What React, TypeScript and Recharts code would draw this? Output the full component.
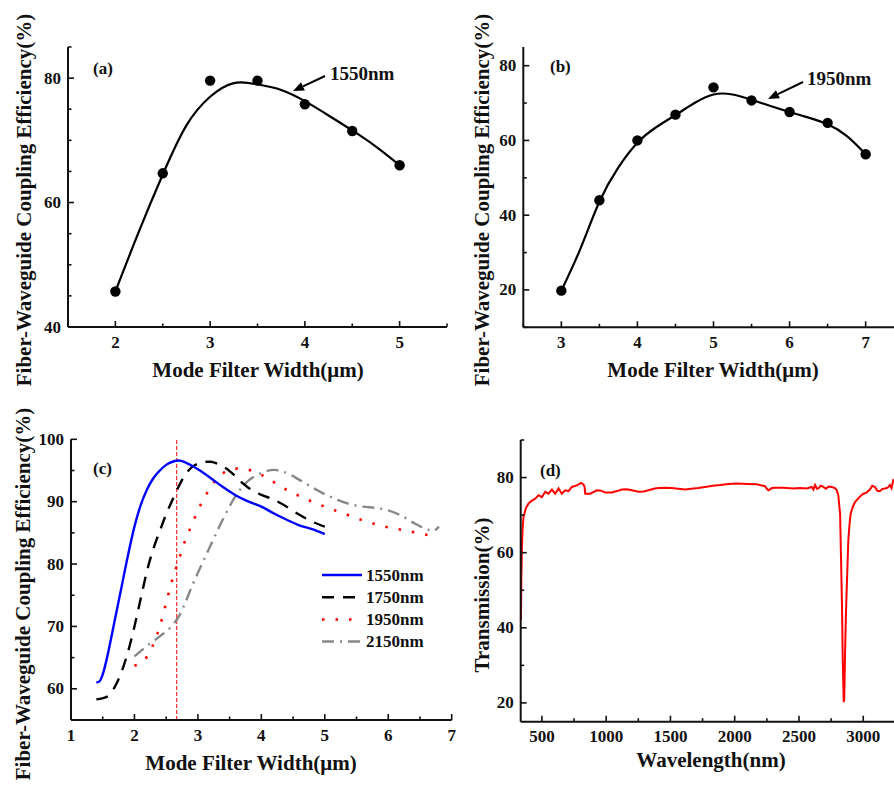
import React from 'react';
import { ComposedChart, LineChart, Line, Scatter, XAxis, YAxis, ReferenceLine } from 'recharts';

const FONT = '"Liberation Serif", "Times New Roman", Times, "DejaVu Serif", serif';

// ---- (a) 1550nm : measured points + fitted curve
const widthA = [2, 2.5, 3, 3.5, 4, 4.5, 5];
const effA = [45.7, 64.7, 79.6, 79.6, 75.8, 71.5, 66.0];
const fitXA = [2, 2.25, 2.5, 2.75, 3, 3.25, 3.5, 3.75, 4, 4.25, 4.5, 4.75, 5];
const fitYA = [45.7, 55.4, 64.5, 72.4, 77.0, 79.2, 79.0, 78.1, 76.3, 74.0, 71.6, 69.0, 66.0];
const ticksXA = [1.5, 2, 2.5, 3, 3.5, 4, 4.5, 5, 5.5];
const labelsXA = [2, 3, 4, 5];
const ticksYA = [40, 45, 50, 55, 60, 65, 70, 75, 80, 85];
const labelsYA = [40, 60, 80];

// ---- (b) 1950nm
const widthB = [3, 3.5, 4, 4.5, 5, 5.5, 6, 6.5, 7];
const effB = [19.8, 44.0, 60.0, 66.9, 74.2, 70.7, 67.6, 64.7, 56.3];
const fitXB = [3, 3.25, 3.5, 3.75, 4, 4.25, 4.5, 4.75, 5, 5.25, 5.5, 5.75, 6, 6.25, 6.5, 6.75, 7];
const fitYB = [19.8, 31.0, 43.6, 52.8, 59.4, 63.6, 66.8, 70.0, 72.3, 72.3, 70.9, 69.2, 67.6, 66.1, 64.3, 61.2, 56.3];
const ticksXB = [2.5, 3, 3.5, 4, 4.5, 5, 5.5, 6, 6.5, 7, 7.5];
const labelsXB = [3, 4, 5, 6, 7];
const ticksYB = [10, 20, 30, 40, 50, 60, 70, 80];
const labelsYB = [20, 40, 60, 80];

// ---- (c) simulated coupling efficiency per wavelength
const c1550 = [
  [1.4, 61.0], [1.45, 61.2], [1.5, 62.3], [1.55, 64.2], [1.6, 66.5], [1.7, 71.5], [1.8, 76.5], [1.9, 81.5],
  [2.0, 86.0], [2.1, 89.5], [2.2, 92.0], [2.3, 93.8], [2.4, 95.0], [2.5, 95.9], [2.6, 96.4],
  [2.7, 96.6], [2.8, 96.3], [2.9, 95.8], [3.0, 95.2], [3.2, 93.8], [3.4, 92.3], [3.6, 91.0], [3.8, 90.0],
  [4.0, 89.2], [4.2, 88.1], [4.4, 87.1], [4.6, 86.2], [4.8, 85.6], [5.0, 84.8],
];
const c1750 = [
  [1.4, 58.3], [1.5, 58.5], [1.6, 59.0], [1.7, 60.5], [1.8, 62.8], [1.9, 66.0], [2.0, 70.0], [2.1, 74.5],
  [2.2, 79.0], [2.3, 82.5], [2.4, 85.3], [2.5, 88.0], [2.6, 90.3], [2.7, 92.5], [2.8, 94.3], [2.9, 95.5],
  [3.0, 96.1], [3.1, 96.4], [3.2, 96.4], [3.3, 96.1], [3.4, 95.6], [3.5, 94.9], [3.6, 94.0], [3.7, 93.0],
  [3.8, 92.2], [3.9, 91.6], [4.0, 91.1], [4.2, 90.3], [4.4, 89.2], [4.6, 87.9], [4.8, 86.8], [5.0, 86.0],
];
const c1950 = [
  [2.0, 63.7], [2.2, 65.2], [2.3, 67.2], [2.4, 70.0], [2.5, 73.8], [2.6, 77.6], [2.7, 80.7], [2.8, 83.8],
  [2.9, 86.2], [3.0, 88.6], [3.1, 90.6], [3.2, 92.3], [3.3, 93.7], [3.4, 94.6], [3.5, 95.1], [3.6, 95.3],
  [3.8, 95.1], [4.0, 94.3], [4.2, 93.1], [4.4, 91.9], [4.6, 90.9], [4.8, 90.0], [5.0, 89.2], [5.3, 88.1],
  [5.6, 87.0], [5.9, 86.1], [6.2, 85.5], [6.5, 84.9], [6.7, 84.5],
];
const c2150 = [
  [2.0, 65.2], [2.2, 66.9], [2.4, 68.4], [2.6, 70.2], [2.7, 71.6], [2.8, 73.8], [2.9, 76.3], [3.0, 78.6],
  [3.2, 83.0], [3.4, 87.3], [3.6, 91.0], [3.8, 93.4], [4.0, 94.6], [4.2, 95.1], [4.4, 94.6], [4.6, 93.5],
  [4.8, 92.3], [5.0, 91.2], [5.2, 90.3], [5.4, 89.6], [5.6, 89.2], [5.8, 89.0], [6.0, 88.6], [6.2, 87.8],
  [6.4, 86.6], [6.6, 85.6], [6.7, 85.3], [6.8, 86.0],
];
const optimumWidth = 2.666;
const ticksXC = [1, 1.5, 2, 2.5, 3, 3.5, 4, 4.5, 5, 5.5, 6, 6.5, 7];
const labelsXC = [1, 2, 3, 4, 5, 6, 7];
const ticksYC = [55, 60, 65, 70, 75, 80, 85, 90, 95, 100];
const labelsYC = [60, 70, 80, 90, 100];

// ---- (d) transmission spectrum
const spectrum = [
  [337, 42], [340, 53], [345, 62], [350, 66.5], [357, 69.5], [375, 71.8], [396, 73.1], [420, 73.8],
  [448, 74.4], [474, 75.3], [500, 74.8], [526, 76.2], [551, 75.7], [578, 76.8], [603, 75.7], [629, 77.1],
  [655, 75.7], [681, 76.6], [707, 76.4], [733, 77.5], [772, 77.9], [806, 78.6], [823, 78.2], [832, 77.5],
  [837, 75.7], [876, 75.7], [928, 76.6], [960, 76.5], [992, 76.0], [1044, 76.0], [1085, 76.4], [1122, 76.8],
  [1160, 76.9], [1200, 76.6], [1251, 76.2], [1290, 76.3], [1329, 76.6], [1370, 77.0], [1406, 77.2],
  [1460, 77.3], [1510, 77.2], [1560, 77.0], [1614, 76.8], [1660, 77.0], [1717, 77.2], [1769, 77.5],
  [1830, 77.8], [1887, 78.0], [1950, 78.3], [2016, 78.4], [2100, 78.3], [2171, 78.2], [2236, 77.7],
  [2250, 77.0], [2262, 76.6], [2290, 77.2], [2314, 77.3], [2380, 77.3], [2456, 77.1], [2510, 77.2],
  [2560, 77.1], [2599, 77.5], [2612, 76.8], [2625, 78.0], [2640, 77.0], [2651, 77.1], [2670, 77.8],
  [2690, 77.5], [2710, 77.0], [2730, 77.6], [2755, 77.5], [2780, 77.2], [2794, 76.6], [2806, 75.3],
  [2815, 72.0], [2820, 70.4], [2827, 58.8], [2835, 45.5], [2840, 32.2], [2848, 20.2], [2852, 21.0],
  [2858, 32.2], [2864, 42.0], [2871, 49.9], [2884, 63.3], [2893, 67.5], [2902, 70.4], [2920, 72.3],
  [2936, 73.5], [2970, 74.8], [3000, 75.7], [3025, 76.0], [3052, 76.8], [3070, 77.8], [3091, 77.5],
  [3110, 76.5], [3130, 76.4], [3150, 77.0], [3169, 77.1], [3190, 77.3], [3208, 78.0], [3220, 77.2],
  [3234, 79.3], [3250, 78.8], [3270, 79.5],
];
const ticksXD = [500, 750, 1000, 1250, 1500, 1750, 2000, 2250, 2500, 2750, 3000, 3250];
const labelsXD = [500, 1000, 1500, 2000, 2500, 3000];
const ticksYD = [20, 30, 40, 50, 60, 70, 80, 90];
const labelsYD = [20, 40, 60, 80];

const toPts = (xs: number[], ys: number[]) => xs.map((x, i) => ({ x, y: ys[i] }));
const fromPairs = (arr: number[][]) => arr.map(([x, y]) => ({ x, y }));

const tickFont = { fontFamily: FONT, fontWeight: 700, fontSize: 17, fill: '#111' };
const lineSt = { stroke: '#111', strokeWidth: 1.6 };

// inward ticks (major long, minor short), labels only on bottom/left
const makeTick = (side: string, labels: number[]) => (p: any) => {
  const { x, y, payload } = p;
  const v = payload.value;
  const major = labels.some((l) => Math.abs(l - v) < 1e-6);
  const len = major ? 6 : 3.5;
  if (side === 'bottom') {
    const ay = y - 15;
    return (
      <g>
        <line x1={x} x2={x} y1={ay} y2={ay - len} {...lineSt} />
        {major && <text x={x} y={y} textAnchor="middle" dominantBaseline="central" style={tickFont}>{v}</text>}
      </g>
    );
  }
  if (side === 'left') {
    const ax = x + 7;
    return (
      <g>
        <line x1={ax} x2={ax + len} y1={y} y2={y} {...lineSt} />
        {major && <text x={x} y={y} textAnchor="end" dominantBaseline="central" style={tickFont}>{v}</text>}
      </g>
    );
  }
  if (side === 'top') return <line x1={x} x2={x} y1={y} y2={y + len} {...lineSt} />;
  return <line x1={x} x2={x - len} y1={y} y2={y} {...lineSt} />;
};

const axisLine = { stroke: '#111', strokeWidth: 2 };

const frameAxes = (dx: number[], dy: number[], tx: number[], lx: number[], ty: number[], ly: number[]) => [
  <XAxis key="xb" type="number" dataKey="x" domain={dx} allowDataOverflow ticks={tx} interval={0}
    height={30} tickSize={0} tickMargin={15} tickLine={false} axisLine={axisLine} tick={makeTick('bottom', lx)} />,
  <XAxis key="xt" xAxisId="top" orientation="top" type="number" dataKey="x" domain={dx} allowDataOverflow ticks={tx}
    interval={0} height={0} tickSize={0} tickMargin={0} tickLine={false} axisLine={axisLine} tick={makeTick('top', lx)} />,
  <YAxis key="yl" type="number" dataKey="y" domain={dy} allowDataOverflow ticks={ty} interval={0}
    width={50} tickSize={0} tickMargin={7} tickLine={false} axisLine={axisLine} tick={makeTick('left', ly)} />,
  <YAxis key="yr" yAxisId="right" orientation="right" type="number" dataKey="y" domain={dy} allowDataOverflow ticks={ty}
    interval={0} width={0} tickSize={0} tickMargin={0} tickLine={false} axisLine={axisLine} tick={makeTick('right', ly)} />,
];

const dotShape = (p: any) => <circle cx={p.cx} cy={p.cy} r={5.2} fill="#000" />;

const title = (text: string, cx: number, cy: number, rotate = false) => (
  <div style={{
    position: 'absolute', left: cx, top: cy, whiteSpace: 'nowrap', fontFamily: FONT, fontWeight: 700,
    fontSize: 21, color: '#111', lineHeight: 1,
    transform: `translate(-50%, -50%)${rotate ? ' rotate(-90deg)' : ''}`,
  }}>{text}</div>
);

const arrow = (x1: number, y1: number, x2: number, y2: number) => {
  const d = Math.hypot(x2 - x1, y2 - y1);
  const ux = (x2 - x1) / d, uy = (y2 - y1) / d;
  const bx = x2 - ux * 11, by = y2 - uy * 11;
  const px = -uy * 4.5, py = ux * 4.5;
  return (
    <g>
      <line x1={x1} y1={y1} x2={bx} y2={by} stroke="#000" strokeWidth={2} />
      <polygon points={`${x2},${y2} ${bx + px},${by + py} ${bx - px},${by - py}`} fill="#000" />
    </g>
  );
};

const legendRows = [
  { name: '1550nm', color: '#0000ff', dash: undefined },
  { name: '1750nm', color: '#000', dash: '12 9' },
  { name: '1950nm', color: '#ff0000', dash: '2.5 11' },
  { name: '2150nm', color: '#888', dash: '12 6 2 6' },
];

export default function App() {
  const txt = { fontFamily: FONT, fontWeight: 700, fill: '#111' };
  return (
    <div style={{ position: 'absolute', left: 0, top: 0, width: 894, height: 785, overflow: 'hidden', background: '#fff', fontFamily: FONT }}>
      {/* (a) */}
      <div style={{ position: 'absolute', left: 0, top: 0 }}>
        <ComposedChart width={460} height={400} margin={{ top: 47, right: 13, bottom: 43, left: 18 }}>
          {frameAxes([1.5, 5.5], [40, 85], ticksXA, labelsXA, ticksYA, labelsYA)}
          <Line data={toPts(fitXA, fitYA)} dataKey="y" type="natural" stroke="#000" strokeWidth={2.2}
            dot={false} isAnimationActive={false} />
          <Scatter data={toPts(widthA, effA)} dataKey="y" shape={dotShape} isAnimationActive={false} />
        </ComposedChart>
      </div>
      {/* (b) */}
      <div style={{ position: 'absolute', left: 450, top: 0 }}>
        <ComposedChart width={470} height={400} margin={{ top: 47, right: 16.3, bottom: 42.7, left: 23.3 }}>
          {frameAxes([2.5, 7.5], [10, 85], ticksXB, labelsXB, ticksYB, labelsYB)}
          <Line data={toPts(fitXB, fitYB)} dataKey="y" type="natural" stroke="#000" strokeWidth={2.2}
            dot={false} isAnimationActive={false} />
          <Scatter data={toPts(widthB, effB)} dataKey="y" shape={dotShape} isAnimationActive={false} />
        </ComposedChart>
      </div>
      {/* (c) */}
      <div style={{ position: 'absolute', left: 0, top: 400 }}>
        <LineChart width={470} height={385} margin={{ top: 39.3, right: 18.3, bottom: 35, left: 21 }}>
          {frameAxes([1, 7], [55, 100], ticksXC, labelsXC, ticksYC, labelsYC)}
          <ReferenceLine x={optimumWidth} stroke="#ff0000" strokeWidth={1} strokeDasharray="4 2" />
          <Line data={fromPairs(c2150)} dataKey="y" type="monotone" stroke="#888" strokeWidth={2.4}
            strokeDasharray="12 6 2 6" dot={false} isAnimationActive={false} />
          <Line data={fromPairs(c1950)} dataKey="y" type="monotone" stroke="#ff0000" strokeWidth={2.6}
            strokeDasharray="2.5 11" dot={false} isAnimationActive={false} />
          <Line data={fromPairs(c1750)} dataKey="y" type="monotone" stroke="#000" strokeWidth={2.4}
            strokeDasharray="12 9" dot={false} isAnimationActive={false} />
          <Line data={fromPairs(c1550)} dataKey="y" type="monotone" stroke="#0000ff" strokeWidth={2.4}
            dot={false} isAnimationActive={false} />
        </LineChart>
      </div>
      {/* (d) */}
      <div style={{ position: 'absolute', left: 450, top: 400 }}>
        <LineChart width={470} height={385} margin={{ top: 40, right: 18.2, bottom: 33.3, left: 20.7 }}>
          {frameAxes([335, 3300], [15, 90], ticksXD, labelsXD, ticksYD, labelsYD)}
          <Line data={fromPairs(spectrum)} dataKey="y" type="linear" stroke="#ff0000" strokeWidth={2}
            dot={false} isAnimationActive={false} />
        </LineChart>
      </div>

      {/* annotations, panel labels, legend */}
      <svg width={894} height={785} style={{ position: 'absolute', left: 0, top: 0, pointerEvents: 'none' }}>
        <text x={93} y={68} dominantBaseline="central" fontSize={17} style={txt}>(a)</text>
        <text x={550} y={66} dominantBaseline="central" fontSize={17} style={txt}>(b)</text>
        <text x={93} y={468} dominantBaseline="central" fontSize={17} style={txt}>(c)</text>
        <text x={540} y={470} dominantBaseline="central" fontSize={17} style={txt}>(d)</text>
        <text x={330} y={73} dominantBaseline="central" fontSize={19} style={txt}>1550nm</text>
        <text x={807} y={78} dominantBaseline="central" fontSize={19} style={txt}>1950nm</text>
        {arrow(325, 76, 293, 91)}
        {arrow(803, 82, 768, 99)}
        {legendRows.map((r, i) => {
          const y = 575 + i * 22.2;
          return (
            <g key={r.name}>
              <line x1={322} x2={362} y1={y} y2={y} stroke={r.color} strokeWidth={2.5} strokeDasharray={r.dash} />
              <text x={366} y={y} dominantBaseline="central" fontSize={17} style={txt}>{r.name}</text>
            </g>
          );
        })}
      </svg>

      {title('Fiber-Waveguide Coupling Efficiency(%)', 24, 200, true)}
      {title('Fiber-Waveguide Coupling Efficiency(%)', 482, 200, true)}
      {title('Fiber-Waveguide Coupling Efficiency(%)', 23, 594, true)}
      {title('Transmission(%)', 482, 595, true)}
      {title('Mode Filter Width(\u03bcm)', 258, 370)}
      {title('Mode Filter Width(\u03bcm)', 713, 370)}
      {title('Mode Filter Width(\u03bcm)', 251, 763)}
      {title('Wavelength(nm)', 711, 760)}
    </div>
  );
}
